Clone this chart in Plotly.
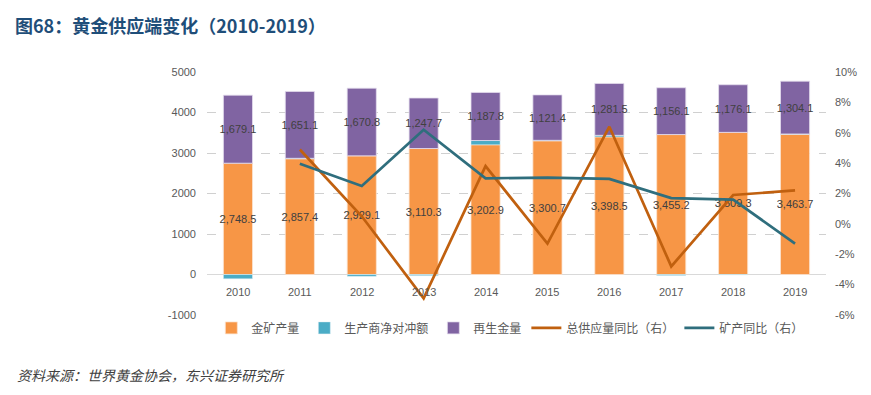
import plotly.graph_objects as go

years = ["2010", "2011", "2012", "2013", "2014", "2015", "2016", "2017", "2018", "2019"]
mine_production = [2748.5, 2857.4, 2929.1, 3110.3, 3202.9, 3300.7, 3398.5, 3455.2, 3509.3, 3463.7]
net_hedging = [-106.0, 11.4, -45.3, -27.9, 104.9, 12.9, 37.6, -25.5, -12.0, 6.0]
recycled = [1679.1, 1651.1, 1670.8, 1247.7, 1187.8, 1121.4, 1281.5, 1156.1, 1176.1, 1304.1]
total_yoy = [None, 0.049, 0.005, -0.049, 0.038, -0.013, 0.064, -0.028, 0.019, 0.022]
mine_yoy = [None, 0.0396, 0.025, 0.062, 0.030, 0.0305, 0.0296, 0.017, 0.016, -0.013]

left_ticks = [-1000, 0, 1000, 2000, 3000, 4000, 5000]
left_tick_text = ["-1000", "0", "1000", "2000", "3000", "4000", "5000"]
right_ticks = [-0.06, -0.04, -0.02, 0.0, 0.02, 0.04, 0.06, 0.08, 0.10]
right_tick_text = ["-6%", "-4%", "-2%", "0%", "2%", "4%", "6%", "8%", "10%"]

C_ORANGE = "#F79646"
C_CYAN = "#4BACC6"
C_PURPLE = "#8064A2"
C_TOTAL = "#C0600F"
C_MINE = "#2F6E7D"
TICK_COLOR = "#595959"
NUM_FONT = "Liberation Sans, Arial, sans-serif"
LABEL_FONT = dict(family=NUM_FONT, size=11, color="#404040")

# page body has an 8px margin, so figure is drawn 8px smaller and offset
W, H = 855, 379
L, T, PW, PH = 199, 64, 619, 243

fig = go.Figure()

fig.add_trace(go.Bar(
    x=years, y=mine_production, name="金矿产量",
    marker=dict(color=C_ORANGE, line=dict(color="#FBE3D0", width=0.8)),
    texttemplate="%{y:,.1f}", textposition="inside",
    insidetextanchor="middle", textangle=0, constraintext="none",
    insidetextfont=LABEL_FONT, cliponaxis=False,
    hoverinfo="skip",
))
fig.add_trace(go.Bar(
    x=years, y=net_hedging, name="生产商净对冲额",
    marker=dict(color=C_CYAN, line=dict(color="#E6F3F7", width=0.5)),
    hoverinfo="skip",
))
fig.add_trace(go.Bar(
    x=years, y=recycled, name="再生金量",
    marker=dict(color=C_PURPLE, line=dict(color="#E5DDEE", width=0.8)),
    texttemplate="%{y:,.1f}", textposition="inside",
    insidetextanchor="middle", textangle=0, constraintext="none",
    insidetextfont=LABEL_FONT, cliponaxis=False,
    hoverinfo="skip",
))
fig.add_trace(go.Scatter(
    x=years, y=total_yoy, name="总供应量同比（右）", yaxis="y2",
    mode="lines", line=dict(color=C_TOTAL, width=2.7), connectgaps=False,
    hoverinfo="skip",
))
fig.add_trace(go.Scatter(
    x=years, y=mine_yoy, name="矿产同比（右）", yaxis="y2",
    mode="lines", line=dict(color=C_MINE, width=2.7), connectgaps=False,
    hoverinfo="skip",
))

annotations = [
    dict(text="<i>资料来源：世界黄金协会，东兴证券研究所</i>", xref="paper", yref="paper",
         x=(7 - L) / PW, y=-(367 - (T + PH)) / PH, xanchor="left", yanchor="middle", showarrow=False,
         font=dict(family="Noto Sans CJK SC", size=14, color="#404040")),
]
for i, yr in enumerate(years):
    annotations.append(dict(text=yr, x=i, y=0, xref="x", yref="y", yshift=-17,
                            showarrow=False, xanchor="center", yanchor="middle",
                            font=dict(family=NUM_FONT, size=11, color=TICK_COLOR)))

fig.update_layout(
    width=W, height=H,
    margin=dict(l=L, r=W - L - PW, t=T, b=H - T - PH, autoexpand=False),
    paper_bgcolor="white", plot_bgcolor="white",
    barmode="relative", bargap=0.53,
    title=dict(text="<b>图68：黄金供应端变化（2010-2019）</b>", xref="container", yref="container",
               x=7 / W, y=1 - 19 / H, xanchor="left", yanchor="middle",
               font=dict(family="Noto Sans CJK SC", size=18, color="#1F4E79")),
    showlegend=True,
    legend=dict(orientation="h", xref="paper", x=0.49, xanchor="center",
                yref="paper", y=-0.053, yanchor="middle",
                font=dict(family="Noto Sans CJK SC", size=12, color=TICK_COLOR),
                tracegroupgap=0, bgcolor="rgba(0,0,0,0)"),
    xaxis=dict(type="category", showticklabels=False, showline=False, showgrid=False,
               zeroline=False, ticks="", categoryorder="array", categoryarray=years,
               range=[-0.5, 9.5]),
    yaxis=dict(range=[-1000, 5000], tickvals=left_ticks, ticktext=left_tick_text,
               showgrid=True, gridcolor="#D0D0D0", griddash="dash", gridwidth=1,
               zeroline=True, zerolinecolor="#D9D9D9", zerolinewidth=1,
               showline=False, ticks="", ticklabelstandoff=10,
               tickfont=dict(family=NUM_FONT, size=11, color=TICK_COLOR)),
    yaxis2=dict(range=[-0.06, 0.10], tickvals=right_ticks, ticktext=right_tick_text,
                overlaying="y", side="right", showgrid=False, zeroline=False,
                showline=False, ticks="", ticklabelstandoff=8,
                tickfont=dict(family=NUM_FONT, size=11, color=TICK_COLOR)),
    annotations=annotations,
)

fig.write_html("out.html")
